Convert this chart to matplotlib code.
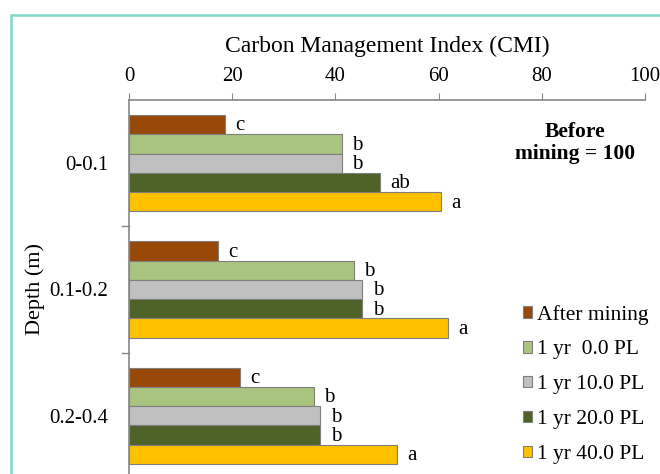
import matplotlib
matplotlib.use('Agg')
import matplotlib.pyplot as plt
from matplotlib.patches import Rectangle, Patch

plt.rcParams['font.family'] = ['Liberation Serif', 'DejaVu Serif']

# data
depths = ['0-0.1', '0.1-0.2', '0.2-0.4']
series_names = ['After mining', '1 yr  0.0 PL', '1 yr 10.0 PL', '1 yr 20.0 PL', '1 yr 40.0 PL']
after_mining = [18.6, 17.2, 21.5]
yr_0pl = [41.2, 43.6, 35.8]
yr_10pl = [41.2, 45.2, 37.1]
yr_20pl = [48.6, 45.2, 37.1]
yr_40pl = [60.4, 61.9, 51.9]
letters = [['c', 'c', 'c'],
           ['b', 'b', 'b'],
           ['b', 'b', 'b'],
           ['ab', 'b', 'b'],
           ['a', 'a', 'a']]
colors = ['#984807', '#A9C47E', '#C0C0C0', '#4F6228', '#FFC000']

W, H = 660, 474
fig = plt.figure(figsize=(6.6, 4.74), dpi=100)

# axes extends a bit below the figure (cropped like the original)
ax = fig.add_axes([129 / W, 1 - 479 / H, (645 - 129) / W, (479 - 100) / H])

values = [after_mining, yr_0pl, yr_10pl, yr_20pl, yr_40pl]
h = 0.153
for j, vals in enumerate(values):
    pos = [i + (j - 2) * h for i in range(len(depths))]
    ax.barh(pos, vals, height=h, color=colors[j], edgecolor='#7F7F7F', linewidth=0.8)
    for p, v, t in zip(pos, vals, letters[j]):
        ax.text(v + 2.0, p + 0.01, t, va='center', ha='left', fontsize=15)

ax.set_xlim(0, 100)
ax.set_ylim(2.5, -0.5)
ax.xaxis.tick_top()
ax.xaxis.set_label_position('top')
ax.set_xticks([0, 20, 40, 60, 80, 100])
ax.tick_params(axis='x', labelsize=15, length=5, color='#868686', pad=5)
ax.set_xlabel('Carbon Management Index (CMI)', fontsize=17, labelpad=11)

ax.set_yticks([0, 1, 2])
ax.set_yticklabels(depths, fontsize=15)
ax.tick_params(axis='y', length=0, pad=15)
for b in [0.5, 1.5]:
    ax.plot([-0.014, 0], [b, b], color='#868686', lw=1, transform=ax.get_yaxis_transform(), clip_on=False)

for s in ['right', 'bottom']:
    ax.spines[s].set_visible(False)
for s in ['top', 'left']:
    ax.spines[s].set_color('#868686')
    ax.spines[s].set_linewidth(1.2)

fig.text(35 / W, 1 - 289 / H, 'Depth (m)', rotation=90, ha='center', va='center', fontsize=16)

fig.text(575 / W, 1 - 143 / H, 'Before\nmining = 100', ha='center', va='center',
         fontsize=15.5, fontweight='bold', linespacing=1.15)

handles = [Patch(facecolor=c, edgecolor='#7F7F7F', linewidth=0.8) for c in colors]
fig.legend(handles, series_names, loc='upper left', bbox_to_anchor=(514 / W, 1 - 296 / H),
           frameon=False, fontsize=15.5, handlelength=0.45, handleheight=0.45,
           handletextpad=0.2, labelspacing=0.74, borderaxespad=0)

# teal border
fig.patches.append(Rectangle((11 / W, -0.1), 1.2, 1 - 15 / H + 0.1, transform=fig.transFigure,
                             fill=False, edgecolor='#7FD9C8', linewidth=1.8))

fig.savefig('out.png', dpi=100)
